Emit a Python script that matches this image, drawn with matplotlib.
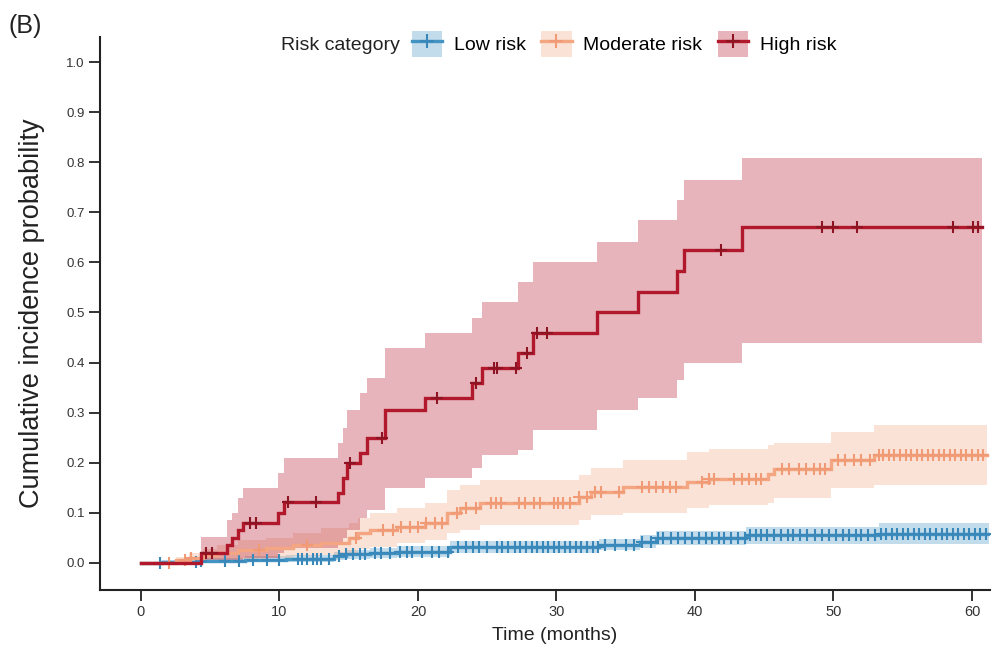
import numpy as np
import matplotlib
matplotlib.use("Agg")
import matplotlib.pyplot as plt
from matplotlib.patches import Patch
from matplotlib.lines import Line2D

plt.rcParams['font.family'] = ['Liberation Sans', 'DejaVu Sans']

# ---------------- data ----------------
groups = ["Low risk", "Moderate risk", "High risk"]
colors = ["#4393C3", "#F4A582", "#B2182B"]
cens_colors = ["#3A88BA", "#F09A76", "#8E1424"]

# High risk
high_t = [0, 4.3, 6.2, 6.6, 7.0, 7.4, 9.9, 10.3, 14.2, 14.6, 14.9, 15.8, 16.3, 17.6,
          20.5, 23.9, 24.6, 27.2, 28.3, 32.9, 35.9, 38.7, 39.2, 43.4, 60.7]
high_p = [0, 0.02, 0.036, 0.05, 0.066, 0.08, 0.10, 0.122, 0.14, 0.17, 0.20, 0.22, 0.25, 0.305,
          0.33, 0.36, 0.39, 0.42, 0.46, 0.50, 0.54, 0.583, 0.625, 0.67, 0.67]
high_hi = [0, 0.052, 0.086, 0.10, 0.13, 0.15, 0.18, 0.21, 0.24, 0.27, 0.305, 0.34, 0.37, 0.43,
           0.46, 0.49, 0.52, 0.56, 0.60, 0.64, 0.685, 0.725, 0.764, 0.808, 0.808]
high_lo = [0, 0, 0, 0, 0.005, 0.01, 0.02, 0.03, 0.04, 0.05, 0.066, 0.09, 0.105, 0.15,
           0.17, 0.19, 0.215, 0.225, 0.265, 0.305, 0.33, 0.365, 0.40, 0.44, 0.44]
high_cens = [4.7, 5.1, 7.9, 8.3, 10.6, 12.6, 15.1, 17.4, 21.4, 24.2, 25.5, 25.7, 27.1,
             27.9, 28.6, 29.3, 41.9, 49.2, 50.0, 51.7, 58.6, 60.1, 60.4]

# Moderate risk
mod_t = [0, 2.5, 3.5, 4.5, 5.5, 7, 9, 11, 13, 15, 15.7, 16.5, 18.5, 20.5, 22.1, 23, 24.5,
         31.6, 32.5, 34.8, 39.4, 41, 45.3, 45.7, 49.8, 52.9, 61.1]
mod_p = [0, 0.005, 0.01, 0.015, 0.02, 0.025, 0.03, 0.035, 0.04, 0.05, 0.06, 0.066, 0.072,
         0.08, 0.10, 0.11, 0.12, 0.132, 0.142, 0.152, 0.162, 0.167, 0.177, 0.187, 0.205,
         0.215, 0.215]
mod_hi = [0, 0.012, 0.02, 0.028, 0.035, 0.045, 0.05, 0.06, 0.07, 0.08, 0.09, 0.10, 0.11,
          0.12, 0.145, 0.155, 0.165, 0.175, 0.19, 0.205, 0.222, 0.228, 0.235, 0.24, 0.262,
          0.275, 0.275]
mod_lo = [0, 0, 0, 0, 0.005, 0.008, 0.01, 0.013, 0.016, 0.02, 0.027, 0.032, 0.04, 0.046,
          0.06, 0.066, 0.076, 0.085, 0.095, 0.10, 0.11, 0.115, 0.12, 0.13, 0.15, 0.155, 0.155]
mod_cens = [2.0, 3.2, 3.6, 8.5, 12.0, 15.5, 17.5, 18.2, 18.8, 19.4, 20.0, 20.6, 21.2, 21.7,
            22.8, 23.5, 24.2, 25.3, 25.6, 26.0, 27.3, 27.7, 28.4, 28.8, 29.8, 30.1, 30.5,
            31.0, 31.6, 32.2, 32.8, 33.2, 34.5, 36.2, 36.7, 37.2, 37.7, 38.2, 38.6, 40.5,
            41.0, 41.4, 42.8, 43.4, 43.9, 44.4, 44.8, 46.3, 46.8, 47.5, 48.0, 48.6, 49.0,
            49.4, 50.3, 50.8, 51.5, 52.0, 52.6, 53.3, 53.6, 54.0, 54.4, 54.8, 55.2, 55.6,
            56.0, 56.4, 56.8, 57.2, 57.6, 58.0, 58.4, 58.8, 59.2, 59.6, 60.0, 60.4, 60.8]

# Low risk
low_t = [0, 1.5, 4.2, 7.5, 10.5, 13.9, 14.8, 16.5, 18.5, 22.3, 33.1, 36.0, 37.2, 43.7, 53.3, 61.2]
low_p = [0, 0.002, 0.004, 0.006, 0.008, 0.013, 0.017, 0.02, 0.022, 0.031, 0.036, 0.042,
         0.05, 0.055, 0.058, 0.058]
low_hi = [0, 0.006, 0.01, 0.013, 0.016, 0.022, 0.026, 0.03, 0.033, 0.043, 0.048, 0.055,
          0.063, 0.072, 0.08, 0.08]
low_lo = [0, 0, 0, 0.001, 0.002, 0.005, 0.008, 0.01, 0.012, 0.02, 0.025, 0.03, 0.035,
          0.038, 0.038, 0.038]
low_cens = [1.4, 4.0, 4.3, 6.1, 7.1, 8.1, 9.1, 10.0, 11.3, 11.6, 12.0, 12.4, 12.7, 13.0,
            13.6, 14.3, 14.8, 15.3, 15.8, 16.2, 16.9, 17.3, 18.0, 18.7, 19.2, 19.6, 20.3,
            21.0, 21.5, 22.2, 22.9, 23.5, 24.0, 24.4, 25.0, 25.7, 26.1, 26.5, 27.0, 27.4,
            27.8, 28.2, 28.6, 29.0, 29.4, 29.8, 30.2, 30.6, 31.0, 31.4, 31.8, 32.2, 32.6,
            33.0, 33.5, 34.2, 35.0, 35.6, 36.2, 36.8, 37.3, 37.7, 38.3, 38.8, 39.3, 39.8,
            40.3, 40.8, 41.2, 41.7, 42.1, 42.6, 43.1, 43.6, 44.0, 44.4, 44.8, 45.2, 45.7,
            46.2, 46.7, 47.1, 47.6, 48.1, 48.7, 49.2, 49.7, 50.2, 50.7, 51.1, 51.6, 52.0,
            52.5, 53.0, 53.4, 53.8, 54.2, 54.6, 55.0, 55.4, 55.8, 56.2, 56.6, 57.0, 57.4,
            57.8, 58.2, 58.6, 59.0, 59.4, 59.8, 60.2, 60.6, 61.0]

x_ticks = [0, 10, 20, 30, 40, 50, 60]
y_ticks = [0.0, 0.1, 0.2, 0.3, 0.4, 0.5, 0.6, 0.7, 0.8, 0.9, 1.0]

series = [
    (low_t, low_p, low_lo, low_hi, low_cens),
    (mod_t, mod_p, mod_lo, mod_hi, mod_cens),
    (high_t, high_p, high_lo, high_hi, high_cens),
]

# ---------------- plot ----------------
fig = plt.figure(figsize=(10, 6.48), dpi=100)
ax = fig.add_axes([0.10, 1 - 590 / 648, 0.89, (590 - 37) / 648])

for (t, p, lo, hi, cens), col in zip(series, colors):
    ax.fill_between(t, lo, hi, step='post', color=col, alpha=0.32, lw=0)

for (t, p, lo, hi, cens), col, ccol in zip(series, colors, cens_colors):
    t = np.asarray(t); p = np.asarray(p)
    ax.step(t, p, where='post', color=col, lw=2.4, solid_joinstyle='miter')
    c = np.asarray(cens)
    idx = np.searchsorted(t, c, side='right') - 1
    ax.plot(c, p[idx], ls='none', marker='+', ms=9, mew=1.5, color=ccol)

ax.set_xlim(-2.96, 61.3)
ax.set_ylim(-0.054, 1.05)
ax.set_xticks(x_ticks)
ax.set_yticks(y_ticks)
ax.set_yticklabels([f"{v:.1f}" for v in y_ticks], fontsize=9.5, color='#333333')
ax.set_xticklabels([str(v) for v in x_ticks], fontsize=10.5, color='#333333',
                   family=['Liberation Sans Narrow', 'Liberation Sans'])
ax.tick_params(axis='both', length=8, width=1.3, color='#222222')
ax.tick_params(axis='y', pad=3)
ax.tick_params(axis='x', pad=3)

for s in ['top', 'right']:
    ax.spines[s].set_visible(False)
for s in ['left', 'bottom']:
    ax.spines[s].set_linewidth(1.5)
    ax.spines[s].set_color('#222222')

ax.set_ylabel("Cumulative incidence probability", fontsize=19.5, color='#222222')
ax.yaxis.set_label_coords(-68 / 890, (590 - 313) / 553)
ax.set_xlabel("Time (months)", fontsize=14, color='#222222')
ax.xaxis.set_label_coords((555 - 100) / 890, -(636 - 590) / 553)
ax.xaxis.label.set_va('center')
ax.yaxis.label.set_va('center')

fig.text(0.008, 1 - 26 / 648, "(B)", fontsize=18, color='#222222', va='center', ha='left')

# legend
handles = []
for col, ccol in zip(colors, cens_colors):
    handles.append((Patch(facecolor=col, alpha=0.32, edgecolor='none'),
                    Line2D([], [], color=col, lw=2.4, marker='+', ms=10, mew=1.5,
                           markeredgecolor=ccol)))
fig.text(0.281, 1 - 45 / 648, "Risk category", fontsize=14, va='center', ha='left',
         color='#222222')
leg = fig.legend(handles, groups, loc='center left', bbox_to_anchor=(0.412, 1 - 44 / 648),
                 ncol=3, frameon=False, fontsize=14, handlelength=1.55, handleheight=1.7,
                 handletextpad=0.6, columnspacing=0.8, borderaxespad=0, borderpad=0)

fig.savefig("out.png", dpi=100)
